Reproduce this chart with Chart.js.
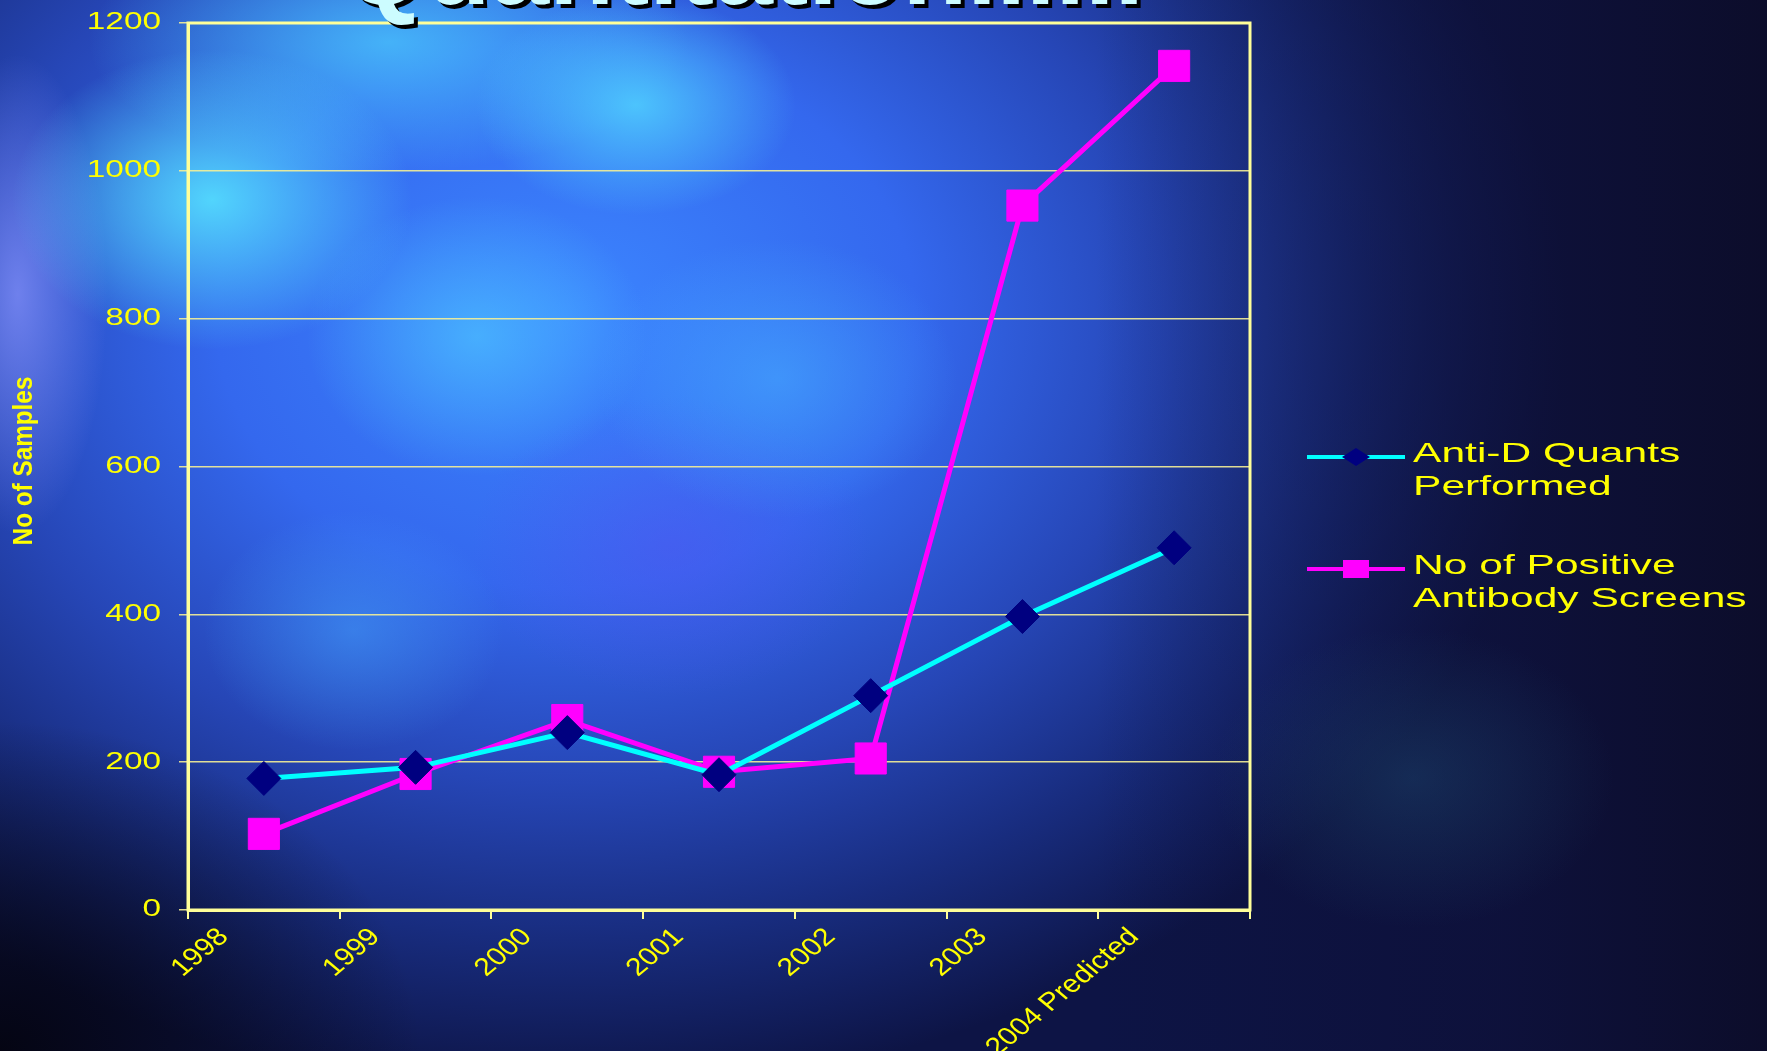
<!DOCTYPE html>
<html>
<head>
<meta charset="utf-8">
<script src="https://cdn.jsdelivr.net/npm/chart.js@4.4.1/dist/chart.umd.min.js"></script>
<style>
  html, body { margin: 0; padding: 0; overflow: hidden; }
  body {
    width: 1767px; height: 1051px;
    background:
      radial-gradient(ellipse 200px 150px at 12% 19%, rgba(85, 225, 255, 0.9), rgba(85, 225, 255, 0) 100%),
      radial-gradient(ellipse 160px 110px at 36% 10%, rgba(80, 210, 255, 0.85), rgba(80, 210, 255, 0) 100%),
      radial-gradient(ellipse 300px 130px at 22% 4%, rgba(75, 205, 255, 0.75), rgba(75, 205, 255, 0) 100%),
      radial-gradient(ellipse 170px 140px at 27% 32%, rgba(75, 190, 255, 0.75), rgba(75, 190, 255, 0) 100%),
      radial-gradient(ellipse 180px 140px at 44% 36%, rgba(70, 175, 255, 0.55), rgba(70, 175, 255, 0) 100%),
      radial-gradient(ellipse 150px 120px at 20% 60%, rgba(70, 170, 255, 0.45), rgba(70, 170, 255, 0) 100%),
      radial-gradient(ellipse 200px 150px at 38% 52%, rgba(85, 80, 240, 0.45), rgba(85, 80, 240, 0) 100%),
      radial-gradient(ellipse 90px 240px at 1% 28%, rgba(140, 150, 255, 0.7), rgba(140, 150, 255, 0) 100%),
      radial-gradient(ellipse 200px 150px at 80% 74%, rgba(35, 90, 130, 0.35), rgba(35, 90, 130, 0) 100%),
      radial-gradient(ellipse 420px 330px at 0% 100%, rgba(4, 4, 16, 0.95), rgba(4, 4, 16, 0) 100%),
      linear-gradient(to right, rgba(8, 10, 40, 0) 62%, rgba(14, 16, 55, 0.7) 85%, rgba(12, 12, 40, 0.9) 100%),
      radial-gradient(ellipse 1000px 780px at 32% 30%, #3c86ff 0%, #3468ee 35%, #2646b6 60%, #182c7e 80%, #0d1445 100%);
  }
  #wrap { position: absolute; left: 0; top: 0; width: 1767px; height: 1051px; }
</style>
</head>
<body>
<div id="wrap"><canvas id="myChart"></canvas></div>
<script>
  //data block
  const years = ['1998', '1999', '2000', '2001', '2002', '2003', '2004 Predicted'];
  const antiDQuants = [178, 193, 240, 183, 290, 397, 490];
  const positiveScreens = [103, 184, 257, 187, 205, 953, 1142];
  const yTicks = [0, 200, 400, 600, 800, 1000, 1200];
  const legendLines = [['Anti-D Quants', 'Performed'], ['No of Positive', 'Antibody Screens']];
  const chartTitle = 'Quantitation......';
  const yTitle = 'No of Samples';

  const yellow = '#ffff00';
  const paleYellow = '#ffff99';

  const data = {
    labels: years,
    datasets: [{
      label: legendLines[0].join(' '),
      data: antiDQuants,
      borderColor: '#00ffff',
      borderWidth: 5,
      pointStyle: 'rectRot',
      pointRadius: 17,
      pointBackgroundColor: '#000080',
      pointBorderColor: '#000080',
      pointBorderWidth: 1,
      tension: 0
    }, {
      label: legendLines[1].join(' '),
      data: positiveScreens,
      borderColor: '#ff00ff',
      borderWidth: 5,
      pointStyle: 'rect',
      pointRadius: 22,
      pointBackgroundColor: '#ff00ff',
      pointBorderColor: '#ff00ff',
      pointBorderWidth: 1,
      tension: 0
    }]
  };

  //everything the library does not draw itself
  const decor = {
    id: 'decor',
    beforeDatasetsDraw(chart) {
      const {ctx, chartArea: {left, top, right, bottom}} = chart;
      ctx.save();
      ctx.strokeStyle = paleYellow;
      ctx.lineWidth = 3;
      ctx.strokeRect(left, top, right - left, bottom - top);
      ctx.restore();
    },
    afterDraw(chart) {
      const {ctx, scales: {x, y}} = chart;

      // title, cut off by the top edge
      ctx.save();
      ctx.font = 'bold 106px "Liberation Sans", Arial, sans-serif';
      ctx.textAlign = 'left';
      ctx.textBaseline = 'alphabetic';
      ctx.fillStyle = '#000000';
      ctx.fillText(chartTitle, 347, 8);
      ctx.fillStyle = '#ccfcff';
      ctx.fillText(chartTitle, 343, 4);
      ctx.restore();

      // y tick labels, stretched wide
      ctx.save();
      ctx.font = '23px "Liberation Sans", Arial, sans-serif';
      ctx.fillStyle = yellow;
      ctx.textAlign = 'right';
      ctx.textBaseline = 'middle';
      y.ticks.forEach(t => {
        ctx.save();
        ctx.translate(161, y.getPixelForValue(t.value));
        ctx.scale(1.45, 1);
        ctx.fillText(String(t.value), 0, 0);
        ctx.restore();
      });
      ctx.restore();

      // x labels, slanted
      ctx.save();
      ctx.font = '25px "Liberation Sans", Arial, sans-serif';
      ctx.fillStyle = yellow;
      ctx.textAlign = 'right';
      ctx.textBaseline = 'middle';
      years.forEach((lab, i) => {
        ctx.save();
        ctx.translate(x.getPixelForValue(i) - 40, 933);
        ctx.scale(1.2, 1);
        ctx.rotate(-Math.PI / 4);
        ctx.fillText(lab, 0, 0);
        ctx.restore();
      });
      ctx.restore();

      // y title
      ctx.save();
      ctx.translate(25, 461);
      ctx.rotate(-Math.PI / 2);
      ctx.scale(0.9, 1);
      ctx.font = 'bold 27px "Liberation Sans", Arial, sans-serif';
      ctx.fillStyle = yellow;
      ctx.textAlign = 'center';
      ctx.textBaseline = 'middle';
      ctx.fillText(yTitle, 0, 0);
      ctx.restore();

      // legend
      const rows = [457, 569];
      chart.data.datasets.forEach((ds, i) => {
        const ly = rows[i];
        ctx.save();
        ctx.strokeStyle = ds.borderColor;
        ctx.lineWidth = 4;
        ctx.beginPath();
        ctx.moveTo(1307, ly);
        ctx.lineTo(1405, ly);
        ctx.stroke();
        ctx.fillStyle = ds.pointBackgroundColor;
        ctx.beginPath();
        if (ds.pointStyle === 'rectRot') {
          ctx.moveTo(1356 - 14, ly);
          ctx.lineTo(1356, ly - 9);
          ctx.lineTo(1356 + 14, ly);
          ctx.lineTo(1356, ly + 9);
          ctx.closePath();
        } else {
          ctx.rect(1356 - 13, ly - 9, 26, 18);
        }
        ctx.fill();

        ctx.font = '28px "Liberation Sans", Arial, sans-serif';
        ctx.fillStyle = yellow;
        ctx.textAlign = 'left';
        ctx.textBaseline = 'middle';
        legendLines[i].forEach((line, j) => {
          ctx.save();
          ctx.translate(1413, ly - 3 + j * 33);
          ctx.scale(1.52, 1);
          ctx.fillText(line, 0, 0);
          ctx.restore();
        });
        ctx.restore();
      });
    }
  };

  //options block
  const options = {
    responsive: true,
    maintainAspectRatio: false,
    animation: false,
    layout: {
      padding: {left: 179, top: 20, right: 517, bottom: 132}
    },
    plugins: {
      legend: { display: false },
      tooltip: { enabled: false }
    },
    scales: {
      x: {
        type: 'category',
        offset: true,
        ticks: { display: false },
        grid: {
          offset: true,
          drawOnChartArea: false,
          drawTicks: true,
          tickLength: 9,
          color: paleYellow,
          lineWidth: 2
        },
        border: { color: paleYellow, width: 3 }
      },
      y: {
        min: 0,
        max: 1200,
        afterBuildTicks: s => { s.ticks = yTicks.map(v => ({value: v})); },
        ticks: { display: false },
        grid: {
          color: 'rgba(245, 240, 150, 0.9)',
          lineWidth: 1.5,
          drawTicks: true,
          tickLength: 9
        },
        border: { color: paleYellow, width: 3 }
      }
    }
  };

  //config block
  const config = {
    type: 'line',
    data,
    options,
    plugins: [decor]
  };

  //render block
  const myChart = new Chart(
    document.getElementById('myChart'),
    config
  );
</script>
</body>
</html>
